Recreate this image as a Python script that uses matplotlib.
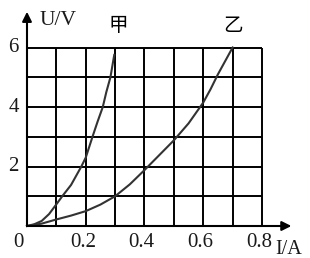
import matplotlib.pyplot as plt

# data (I in A, U in V)
jia_i = [0, 0.025, 0.05, 0.075, 0.1, 0.12, 0.15, 0.185, 0.2, 0.223, 0.24,
         0.258, 0.27, 0.284, 0.297]
jia_u = [0, 0.06, 0.17, 0.4, 0.73, 1.0, 1.38, 2.0, 2.3, 3.0, 3.5,
         4.0, 4.5, 5.0, 5.75]
yi_i = [0, 0.05, 0.1, 0.15, 0.2, 0.25, 0.3, 0.35, 0.4, 0.45, 0.5, 0.55,
        0.6, 0.625, 0.65, 0.675, 0.7]
yi_u = [0, 0.08, 0.22, 0.35, 0.5, 0.72, 1.0, 1.4, 1.88, 2.38, 2.88, 3.45,
        4.15, 4.6, 5.1, 5.55, 6.0]

x_ticks = [0.2, 0.4, 0.6, 0.8]
y_ticks = [2, 4, 6]
x_grid = [0.1 * k for k in range(1, 9)]
y_grid = [1, 2, 3, 4, 5, 6]

serif = ['Liberation Serif', 'DejaVu Serif']
cjk = ['Noto Sans CJK SC', 'DejaVu Sans']

fig = plt.figure(figsize=(3.1, 2.58), dpi=100)
ax = fig.add_axes([0, 0, 1, 1])
ax.set_xlim(-0.0919, 0.9634)
ax.set_ylim(-1.0756, 7.597)
ax.axis('off')

# grid
ax.vlines(x_grid, 0, 6, color='black', lw=1.4)
ax.hlines(y_grid, 0, 0.8, color='black', lw=1.4)

# axes with arrows
ax.annotate('', xy=(0.9, 0), xytext=(0, 0),
            arrowprops=dict(arrowstyle='-|>', color='black', lw=1.5,
                            mutation_scale=14, shrinkA=0, shrinkB=0))
ax.annotate('', xy=(0, 7.2), xytext=(0, 0),
            arrowprops=dict(arrowstyle='-|>', color='black', lw=1.5,
                            mutation_scale=14, shrinkA=0, shrinkB=0))

# curves
ax.plot(jia_i, jia_u, color='#333333', lw=1.5)
ax.plot(yi_i, yi_u, color='#333333', lw=1.5)

# tick labels
for x in x_ticks:
    ax.text(x - 0.01, -0.55, f'{x:.1f}', family=serif, fontsize=15,
            ha='center', va='center', color='#1a1a1a')
ax.text(-0.03, -0.55, '0', family=serif, fontsize=15,
        ha='center', va='center', color='#1a1a1a')
for y in y_ticks:
    ax.text(-0.045, y, str(y), family=serif, fontsize=15,
            ha='center', va='center', color='#1a1a1a')

# axis labels
ax.text(0.042, 6.9, 'U/V', family=serif, fontsize=15.5,
        ha='left', va='center', color='#1a1a1a')
ax.text(0.846, -0.78, 'I/A', family=serif, fontsize=14.5,
        ha='left', va='center', color='#1a1a1a')

# curve names
ax.text(0.31, 6.75, '甲', family=cjk, fontsize=14, ha='center', va='center')
ax.text(0.7, 6.75, '乙', family=cjk, fontsize=14, ha='center', va='center')

plt.savefig('out.png', dpi=100)
